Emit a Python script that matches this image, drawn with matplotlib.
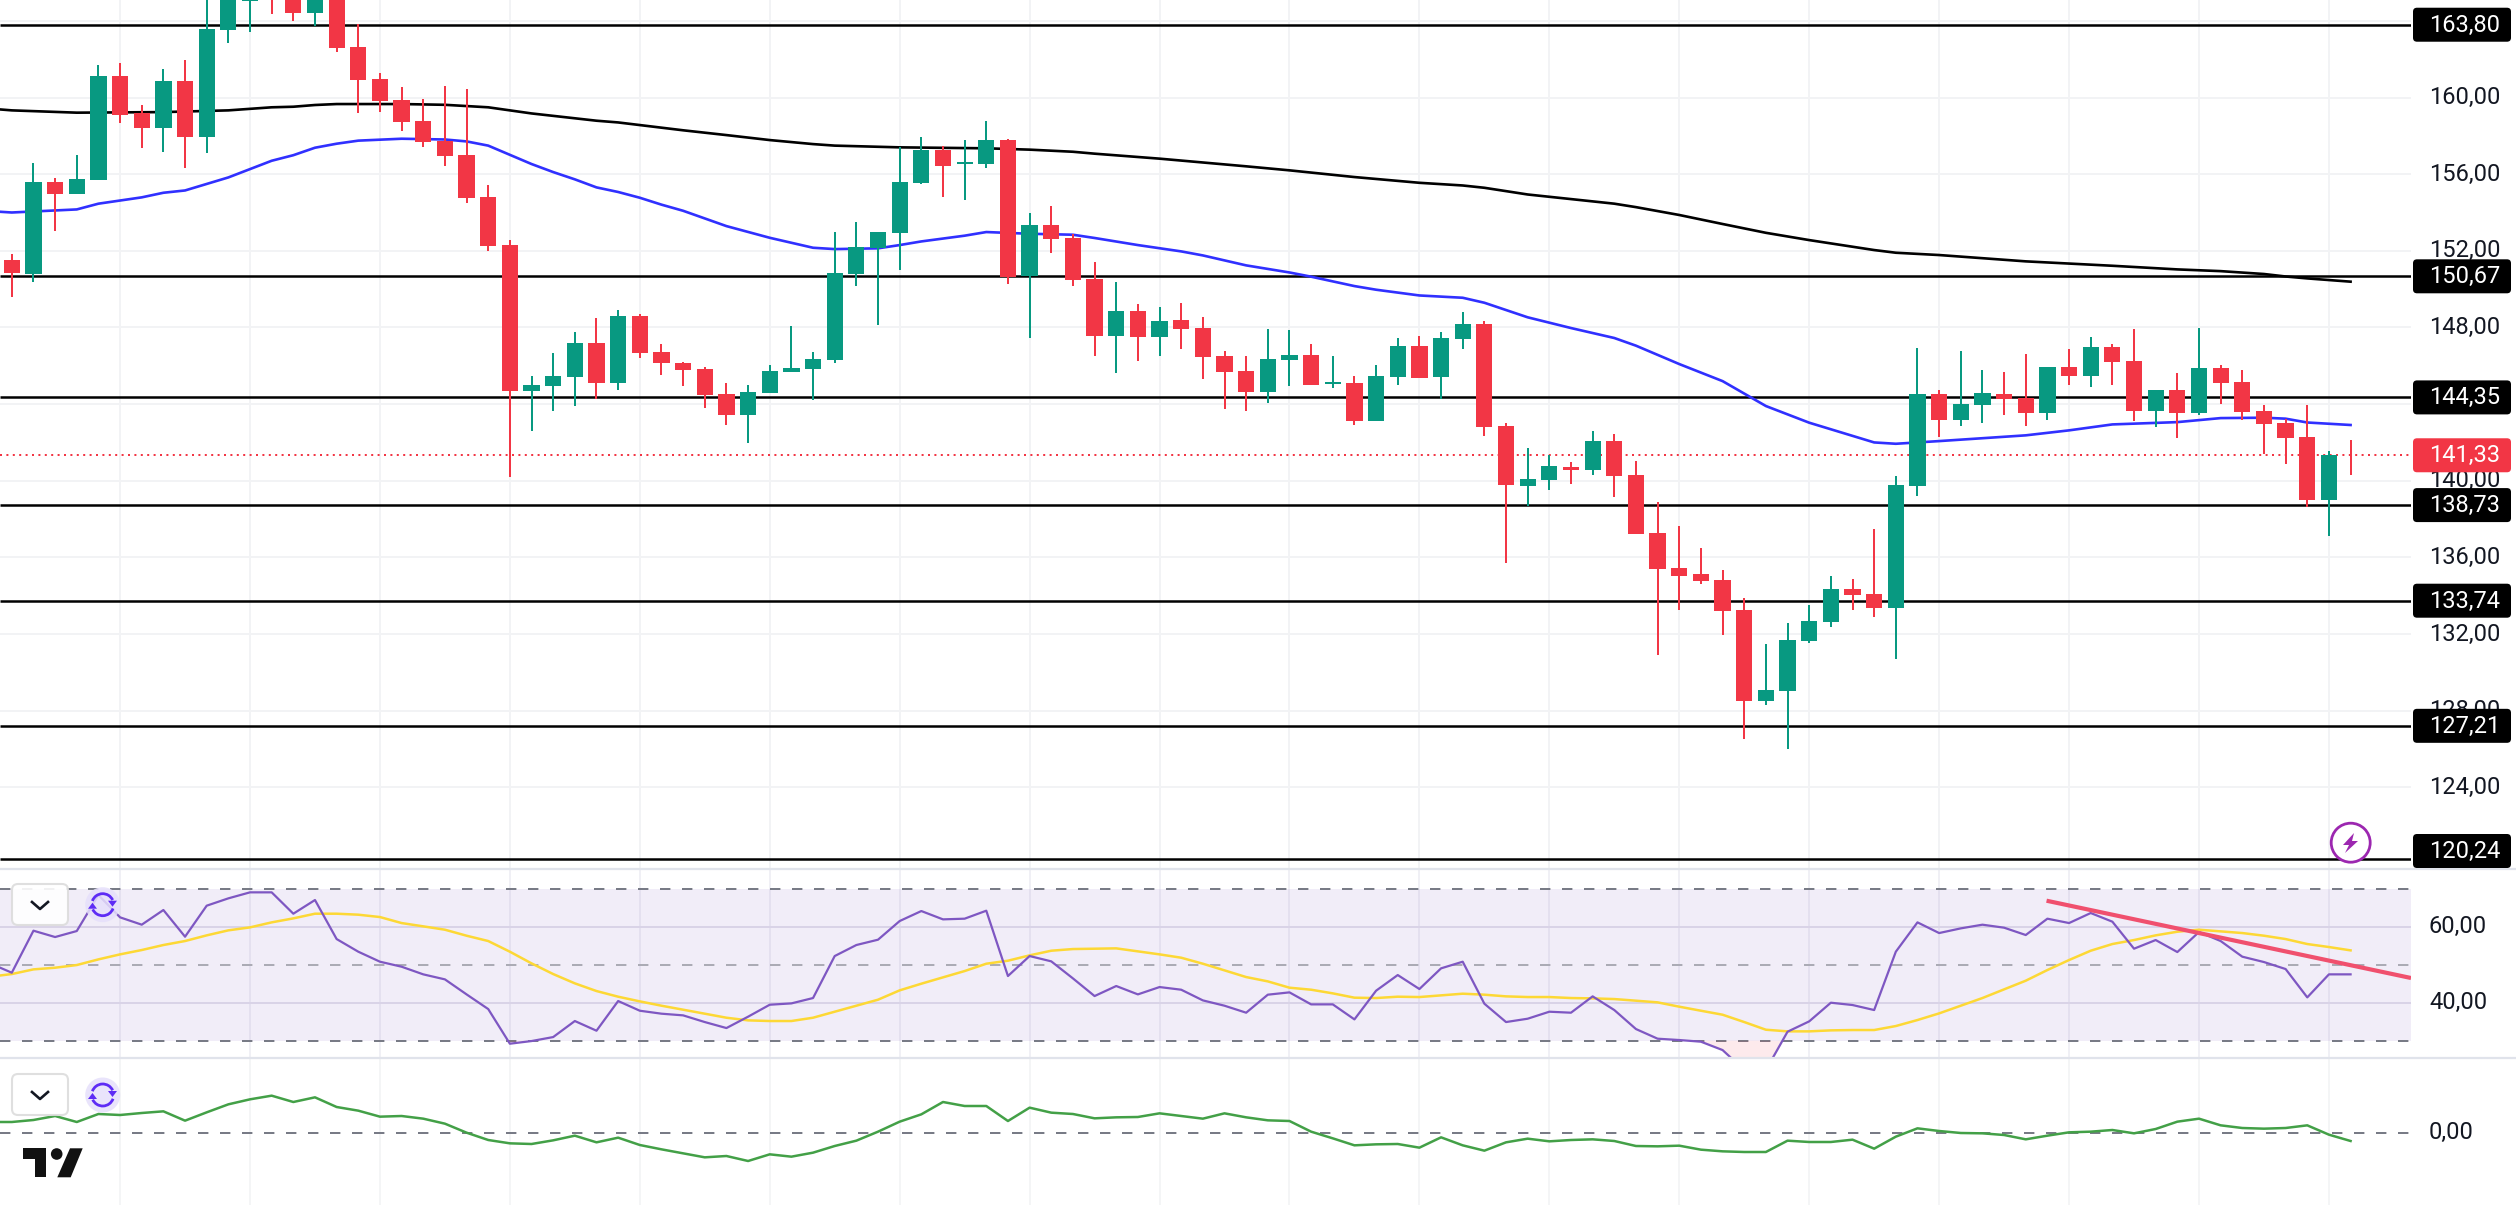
import numpy as np
import matplotlib
matplotlib.use('Agg')
from matplotlib import pyplot as plt
from matplotlib.patches import FancyBboxPatch, Circle, Polygon, Arc

plt.rcParams['font.family'] = ['Roboto', 'DejaVu Sans']

W, H = 2516, 1217

# candles
opens = [151.52, 150.80, 155.59, 154.98, 155.71, 161.12, 159.21, 158.42, 160.86, 157.95,
         163.54, 165.04, 165.96, 165.78, 164.41, 165.44, 162.63, 160.96, 159.87, 158.77,
         157.75, 157.00, 154.80, 152.30, 144.70, 144.96, 145.43, 147.19, 145.12, 148.60,
         146.72, 146.14, 145.83, 144.52, 143.45, 144.59, 145.69, 145.84, 146.32, 150.80,
         152.14, 152.94, 155.55, 157.26, 156.54, 156.54, 157.78, 150.68, 153.34, 152.68,
         150.53, 147.57, 148.86, 147.52, 148.39, 147.97, 146.51, 145.72, 144.65, 146.32,
         146.56, 145.05, 145.10, 143.13, 145.43, 147.03, 145.43, 147.41, 148.18, 142.85,
         139.74, 140.05, 140.71, 140.56, 142.07, 140.30, 137.27, 135.44, 135.13, 134.82,
         133.25, 128.52, 129.04, 131.65, 132.64, 134.35, 134.09, 133.36, 139.72, 144.52,
         143.19, 143.95, 144.52, 144.33, 143.55, 145.93, 145.46, 146.98, 146.25, 143.65,
         144.73, 143.55, 145.88, 145.15, 143.64, 143.01, 142.28, 139.01, 141.36]
closes = [150.86, 155.59, 154.98, 155.75, 161.12, 159.10, 158.42, 160.86, 157.95, 163.57,
          166.30, 165.26, 165.17, 164.41, 165.61, 162.60, 160.93, 159.83, 158.74, 157.69,
          156.96, 154.77, 152.27, 144.70, 144.99, 145.46, 147.19, 145.12, 148.60, 146.68,
          146.16, 145.79, 144.49, 143.45, 144.63, 145.72, 145.88, 146.35, 150.84, 152.20,
          152.98, 155.59, 157.26, 156.44, 156.63, 157.78, 150.65, 153.34, 152.63, 150.49,
          147.57, 148.86, 147.52, 148.33, 147.92, 146.47, 145.69, 144.65, 146.35, 146.56,
          145.01, 145.15, 143.13, 145.46, 147.03, 145.38, 147.45, 148.18, 142.82, 139.79,
          140.09, 140.77, 140.56, 142.07, 140.26, 137.22, 135.41, 135.04, 134.78, 133.22,
          128.52, 129.07, 131.69, 132.68, 134.35, 134.03, 133.36, 139.77, 144.52, 143.19,
          144.00, 144.58, 144.26, 143.55, 145.93, 145.46, 146.98, 146.21, 143.65, 144.73,
          143.55, 145.88, 145.12, 143.60, 142.98, 142.24, 139.01, 141.34, 141.33]
highs = [151.83, 156.56, 155.80, 157.00, 161.69, 161.80, 159.61, 161.49, 161.96, 166.13,
         166.65, 165.78, 166.30, 165.96, 166.13, 165.78, 163.83, 161.28, 160.55, 159.92,
         160.60, 160.44, 155.43, 152.56, 145.46, 146.66, 147.76, 148.49, 148.91, 148.70,
         147.13, 146.19, 145.92, 145.10, 145.00, 146.04, 148.07, 146.72, 152.98, 153.50,
         152.98, 157.41, 157.94, 157.47, 157.78, 158.77, 157.83, 153.97, 154.34, 152.87,
         151.41, 150.37, 149.22, 149.06, 149.27, 148.54, 146.79, 146.51, 147.92, 147.86,
         147.13, 146.51, 145.46, 146.04, 147.45, 147.55, 147.76, 148.80, 148.33, 143.01,
         141.71, 141.34, 140.97, 142.59, 142.44, 141.03, 138.89, 137.63, 136.49, 135.34,
         133.88, 131.48, 132.57, 133.51, 135.03, 134.87, 137.48, 140.24, 146.92, 144.73,
         146.77, 145.77, 145.67, 146.61, 145.93, 146.87, 147.50, 147.13, 147.92, 144.73,
         145.62, 147.97, 146.04, 145.77, 143.95, 143.22, 143.95, 141.55, 142.12]
lows = [149.60, 150.39, 153.05, 154.98, 155.71, 158.69, 157.38, 157.17, 156.34, 157.12,
        162.86, 163.43, 164.36, 164.01, 163.73, 162.39, 159.21, 159.26, 158.27, 157.43,
        156.44, 154.51, 152.00, 140.21, 142.61, 143.65, 143.92, 144.28, 144.75, 146.42,
        145.53, 144.96, 143.81, 142.92, 141.98, 144.59, 145.69, 144.23, 146.16, 150.18,
        148.14, 151.01, 155.50, 154.82, 154.67, 156.34, 150.28, 147.46, 151.90, 150.18,
        146.53, 145.64, 146.26, 146.53, 146.89, 145.32, 143.76, 143.65, 144.07, 144.96,
        145.01, 144.85, 142.92, 143.13, 145.01, 145.38, 144.28, 146.89, 142.35, 135.72,
        138.68, 139.51, 139.83, 140.30, 139.15, 137.22, 130.90, 133.25, 134.62, 131.94,
        126.54, 128.29, 126.01, 131.54, 132.38, 133.25, 132.90, 130.71, 139.20, 142.28,
        142.87, 143.01, 143.43, 142.87, 143.19, 144.99, 144.89, 144.99, 143.11, 142.82,
        142.23, 143.45, 144.02, 143.19, 141.39, 140.89, 138.64, 137.13, 140.31]

# moving averages, read at the candle indexes where the line bends
blue_idx = [-1, 0, 3, 4, 6, 7, 8, 10, 12, 13, 14, 15, 16, 18, 20, 21, 22, 24, 25, 26, 27, 28, 29, 30, 31,
            33, 35, 37, 38, 40, 41, 42, 44, 45, 47, 49, 50, 52, 54, 55, 57, 59, 60, 62, 63, 65, 67, 68,
            70, 72, 74, 75, 77, 79, 81, 83, 86, 87, 88, 89, 93, 95, 97, 100, 102, 104, 105, 106, 108]
blue_ma = [154.07, 154.00, 154.16, 154.46, 154.79, 155.03, 155.15, 155.83, 156.70, 156.99, 157.38, 157.59,
           157.75, 157.85, 157.81, 157.71, 157.49, 156.53, 156.11, 155.73, 155.31, 155.07, 154.77, 154.41,
           154.09, 153.29, 152.68, 152.16, 152.09, 152.13, 152.30, 152.49, 152.79, 152.98, 152.89, 152.84,
           152.67, 152.30, 151.97, 151.76, 151.24, 150.87, 150.65, 150.16, 149.97, 149.67, 149.55, 149.29,
           148.53, 147.97, 147.45, 147.05, 146.09, 145.20, 143.90, 143.03, 142.00, 141.93, 142.00, 142.07,
           142.37, 142.63, 142.94, 143.06, 143.27, 143.29, 143.24, 143.04, 142.91]
black_idx = [-1, 0, 3, 7, 10, 12, 13, 14, 15, 18, 20, 22, 24, 27, 28, 31, 33, 35, 37, 38, 41, 45, 47, 49, 50,
             53, 57, 59, 62, 65, 67, 68, 70, 72, 74, 75, 77, 79, 81, 83, 86, 87, 89, 93, 97, 100, 102, 104,
             105, 106, 108]
black_ma = [159.42, 159.33, 159.21, 159.24, 159.33, 159.49, 159.52, 159.61, 159.66, 159.66, 159.62, 159.49,
            159.17, 158.79, 158.70, 158.29, 158.04, 157.78, 157.57, 157.49, 157.40, 157.35, 157.28, 157.17,
            157.07, 156.81, 156.41, 156.20, 155.85, 155.55, 155.41, 155.29, 154.94, 154.70, 154.46, 154.28,
            153.87, 153.40, 152.94, 152.56, 152.04, 151.90, 151.78, 151.45, 151.22, 151.03, 150.94, 150.79,
            150.66, 150.56, 150.39]

# indicators, first value is the bar just off the left edge
rsi = [50.35, 47.89, 58.95, 57.28, 58.86, 68.33, 62.46, 60.53, 64.39, 57.37, 65.53, 67.46, 69.04, 69.04, 63.42,
       67.02, 56.75, 53.42, 50.79, 49.47, 47.46, 46.14, 42.19, 38.33, 29.21, 29.91, 30.96, 35.18, 32.63, 40.44,
       37.89, 37.11, 36.67, 34.91, 33.33, 36.32, 39.47, 39.82, 41.23, 52.28, 55.18, 56.58, 61.49, 64.12, 61.93,
       62.11, 64.21, 47.02, 52.28, 50.88, 46.40, 41.75, 44.39, 42.19, 44.12, 43.42, 40.61, 39.21, 37.37,
       42.11, 42.72, 39.56, 39.56, 35.61, 43.16, 47.28, 43.60, 49.04, 50.79, 39.74, 34.91, 35.79, 37.63, 37.37,
       41.67, 38.07, 33.07, 30.53, 30.18, 29.74, 27.54, 22.28, 22.28, 32.37, 35.09, 40.00, 39.39, 38.07, 53.42,
       61.14, 58.33, 59.56, 60.53, 59.74, 57.81, 62.11, 60.96, 63.60, 61.32, 54.21, 56.49, 53.33, 58.60, 56.23,
       52.11, 50.70, 48.86, 41.40, 47.46, 47.46]
rsi_ma = [46.84, 47.54, 48.77, 49.21, 49.91, 51.40, 52.72, 53.86, 55.18, 56.23, 57.72, 59.04, 59.82, 61.14, 62.19,
          63.42, 63.42, 63.16, 62.54, 60.96, 60.09, 59.21, 57.63, 56.23, 53.42, 50.35, 47.54, 45.09, 43.07, 41.58,
          40.35, 39.21, 38.16, 37.11, 36.05, 35.35, 35.18, 35.18, 36.05, 37.63, 39.21, 40.79, 43.25, 45.00, 46.67,
          48.33, 50.26, 51.05, 52.46, 53.68, 54.12, 54.21, 54.30, 53.51, 52.72, 51.84, 50.26, 48.51, 46.75,
          45.61, 43.95, 43.42, 42.46, 41.32, 41.23, 41.58, 41.49, 41.93, 42.37, 42.11, 41.67, 41.49, 41.49, 41.23,
          41.14, 40.96, 40.53, 40.09, 38.95, 37.89, 36.84, 34.91, 32.89, 32.46, 32.46, 32.72, 32.81, 32.81, 33.86,
          35.44, 37.19, 39.21, 41.23, 43.51, 45.79, 48.60, 51.23, 53.68, 55.44, 56.49, 57.72, 58.68, 59.21, 58.77,
          58.33, 57.63, 56.75, 55.44, 54.65, 53.77]
momentum = [3.2, 3.2, 3.8, 5.0, 3.2, 5.6, 5.3, 5.9, 6.4, 3.6, 6.1, 8.5, 10.0, 11.1, 9.2, 10.6, 7.7, 6.6, 4.8, 5.0,
            4.2, 2.7, 0.0, -2.2, -3.2, -3.4, -2.3, -0.9, -2.9, -1.5, -3.7, -5.0, -6.2, -7.4, -7.0, -8.5, -6.5,
            -7.2, -6.0, -4.0, -2.4, 0.3, 3.3, 5.5, 9.2, 8.0, 8.0, 3.5, 7.5, 6.0, 5.6, 4.3, 4.6, 4.7, 5.8, 5.0,
            4.2, 5.8, 4.6,
            3.7, 3.5, 0.3, -1.7, -3.8, -3.5, -3.4, -4.5, -1.4, -3.8, -5.4, -2.9, -1.8, -2.6, -2.2, -2.0, -2.5,
            -4.0, -4.1, -3.9, -5.1, -5.6, -5.8, -5.8, -2.4, -2.8, -2.8, -2.1, -4.8, -1.2, 1.3, 0.5, -0.1, -0.2,
            -0.7, -2.0, -0.9, 0.1, 0.3, 0.8, -0.2, 1.1, 3.3, 4.2, 2.2, 1.4, 1.2, 1.4, 2.2, -0.6, -2.5]
trend_x = [93.96, 110.79]
trend_y = [66.84, 46.50]

level_prices = [163.80, 150.67, 144.35, 138.73, 133.74, 127.21, 120.24]
last_price = 141.33
price_ticks = [124, 128, 132, 136, 140, 144, 148, 152, 156, 160, 164]
# 144,00 and 164,00 sit fully under the price boxes
tick_labels = [124, 128, 132, 136, 140, 148, 152, 156, 160]
grid_idx = list(range(5, 110, 6))


def px_rect(left, top, right, bottom):
    return [left / W, 1 - bottom / H, (right - left) / W, (bottom - top) / H]


def label(v):
    return f'{v:.2f}'.replace('.', ',')


GREEN = '#089981'
RED = '#F23645'
GRID = '#F2F3F5'
DASH = (0, (5.2, 5.8))
XLIM = (-0.545, 110.79)

fig = plt.figure(figsize=(W / 100, H / 100), dpi=100, facecolor='white')
ax = fig.add_axes(px_rect(0, 0, 2411, 868))
ax_rsi = fig.add_axes(px_rect(0, 870, 2411, 1058))
ax_mom = fig.add_axes(px_rect(0, 1059, 2411, 1217))
for a in (ax, ax_rsi, ax_mom):
    a.set_xlim(*XLIM)
    a.axis('off')
ax.set_ylim(119.79, 165.09)
ax_rsi.set_ylim(25.45, 74.92)
ax_mom.set_ylim(-25.3, 22.1)

# price pane
ax.vlines(grid_idx, 119.79, 165.09, color=GRID, lw=1.44, zorder=1)
ax.hlines(price_ticks, *XLIM, color=GRID, lw=1.44, zorder=1)
ax.hlines(level_prices, *XLIM, color='black', lw=1.8, zorder=2)
ax.plot(black_idx, black_ma, color='black', lw=1.9, zorder=2)
ax.plot(blue_idx, blue_ma, color='#3030FF', lw=1.9, zorder=2)
ax.hlines(last_price, *XLIM, color=RED, lw=1.44, linestyles=(0, (1, 2.2)), zorder=2)

x = np.arange(len(opens))
o, c, hi, lo = map(np.array, (opens, closes, highs, lows))
colors = [GREEN if cl >= op else RED for op, cl in zip(o, c)]
ax.vlines(x, lo, hi, color=colors, lw=1.44, zorder=3)
ax.bar(x, np.abs(c - o), bottom=np.minimum(o, c), width=0.75, color=colors, zorder=3)

# rsi pane
rsi_x = np.arange(-1, len(opens))
ax_rsi.vlines(grid_idx, 25.45, 74.92, color='#EDEEF3', lw=1.2, zorder=1)
ax_rsi.hlines([60, 40], *XLIM, color='#E4E2EC', lw=1.44, zorder=1)
ax_rsi.axhspan(30, 70, xmin=0, xmax=1, color='#7E57C2', alpha=0.10, lw=0, zorder=1.5)
ax_rsi.hlines([70, 30], *XLIM, color='#787B86', lw=1.44, linestyles=DASH, zorder=2)
ax_rsi.hlines(50, *XLIM, color='#ABABB5', lw=1.44, linestyles=DASH, zorder=2)
rsi_arr = np.array(rsi)
ax_rsi.fill_between(rsi_x, rsi_arr, 30, where=rsi_arr < 30, interpolate=True, color=RED, alpha=0.10, lw=0, zorder=2)
ax_rsi.plot(rsi_x, rsi_ma, color='#FDD835', lw=1.8, zorder=3)
ax_rsi.plot(rsi_x, rsi, color='#7E57C2', lw=1.6, zorder=4)
ax_rsi.plot(trend_x, trend_y, color='#F0506E', lw=3, solid_capstyle='butt', zorder=5)

# momentum pane
ax_mom.vlines(grid_idx, -21.7, 22.1, color=GRID, lw=1.2, zorder=1)
ax_mom.hlines(0, *XLIM, color='#787B86', lw=1.44, linestyles=DASH, zorder=2)
ax_mom.plot(rsi_x, momentum, color='#43A047', lw=1.8, zorder=3)

# overlay in pixels for the axis labels and chart buttons
ov = fig.add_axes([0, 0, 1, 1])
ov.set_xlim(0, W)
ov.set_ylim(H, 0)
ov.axis('off')
ov.patch.set_alpha(0)


def y_px(a, v):
    return H - a.transData.transform((0, v))[1]


def axis_text(y, s, color='#131722'):
    ov.text(2429, y, s, color=color, fontsize=17, va='center', ha='left', zorder=3)


def price_box(y, s, fc):
    ov.add_patch(FancyBboxPatch((2416, y - 14), 92, 28, boxstyle='round,pad=3,rounding_size=4',
                                fc=fc, ec='none', zorder=4))
    ov.text(2429, y + 0.5, s, color='white', fontsize=17, va='center', ha='left', zorder=5)


for t in tick_labels:
    axis_text(y_px(ax, t), label(t))
for t in (60, 40):
    axis_text(y_px(ax_rsi, t), label(t))
axis_text(y_px(ax_mom, 0), label(0))

ov.hlines([869, 1058], 0, W, color='#E0E3EB', lw=1.6, zorder=1)

for p in level_prices:
    yy = y_px(ax, p)
    if p == level_prices[-1]:
        yy = 851
    price_box(yy, label(p), 'black')
price_box(y_px(ax, last_price), label(last_price), RED)

# lightning marker
ov.add_patch(Circle((2350.7, 842.7), 19.5, fc='white', ec='#9C27B0', lw=2, zorder=4))
ov.add_patch(Polygon([(2354, 833), (2343, 845), (2349, 845), (2345, 853), (2358, 841), (2352, 841)],
                     fc='#9C27B0', ec='none', zorder=5))


def draw_buttons(top, cy):
    ov.add_patch(FancyBboxPatch((15, top + 3), 50, 35, boxstyle='round,pad=3,rounding_size=6',
                                fc='white', ec='#DCDCDC', lw=1.5, alpha=0.9, zorder=4))
    cyb = top + 21
    ov.plot([32, 40, 48], [cyb - 3, cyb + 4, cyb - 3], color='#131722', lw=1.9, zorder=5)
    ov.add_patch(Circle((102.7, cy), 17.5, fc='#E6E0FB', ec='none', alpha=0.85, zorder=4))
    ov.add_patch(Arc((102.7, cy), 22, 22, theta1=200, theta2=335, color='#5E2CF5', lw=2, zorder=5))
    ov.add_patch(Arc((102.7, cy), 22, 22, theta1=20, theta2=155, color='#5E2CF5', lw=2, zorder=5))
    ov.add_patch(Polygon([(108, cy - 4), (117, cy - 4), (112.5, cy + 2)], fc='#5E2CF5', ec='none', zorder=5))
    ov.add_patch(Polygon([(88, cy + 4), (97, cy + 4), (92.5, cy - 2)], fc='#5E2CF5', ec='none', zorder=5))


draw_buttons(884, 904.7)
draw_buttons(1074, 1095)

# logo
ov.add_patch(Polygon([(22.7, 1148.3), (46.3, 1148.3), (46.3, 1177.3), (34.7, 1177.3), (34.7, 1159), (22.7, 1159)],
                     fc='#111111', ec='none', zorder=5))
ov.add_patch(Circle((56.7, 1154), 5.8, fc='#111111', ec='none', zorder=5))
ov.add_patch(Polygon([(70, 1148.3), (82.7, 1148.3), (70.7, 1177.3), (57.3, 1177.3)], fc='#111111', ec='none', zorder=5))

fig.savefig('out.png', dpi=100)
